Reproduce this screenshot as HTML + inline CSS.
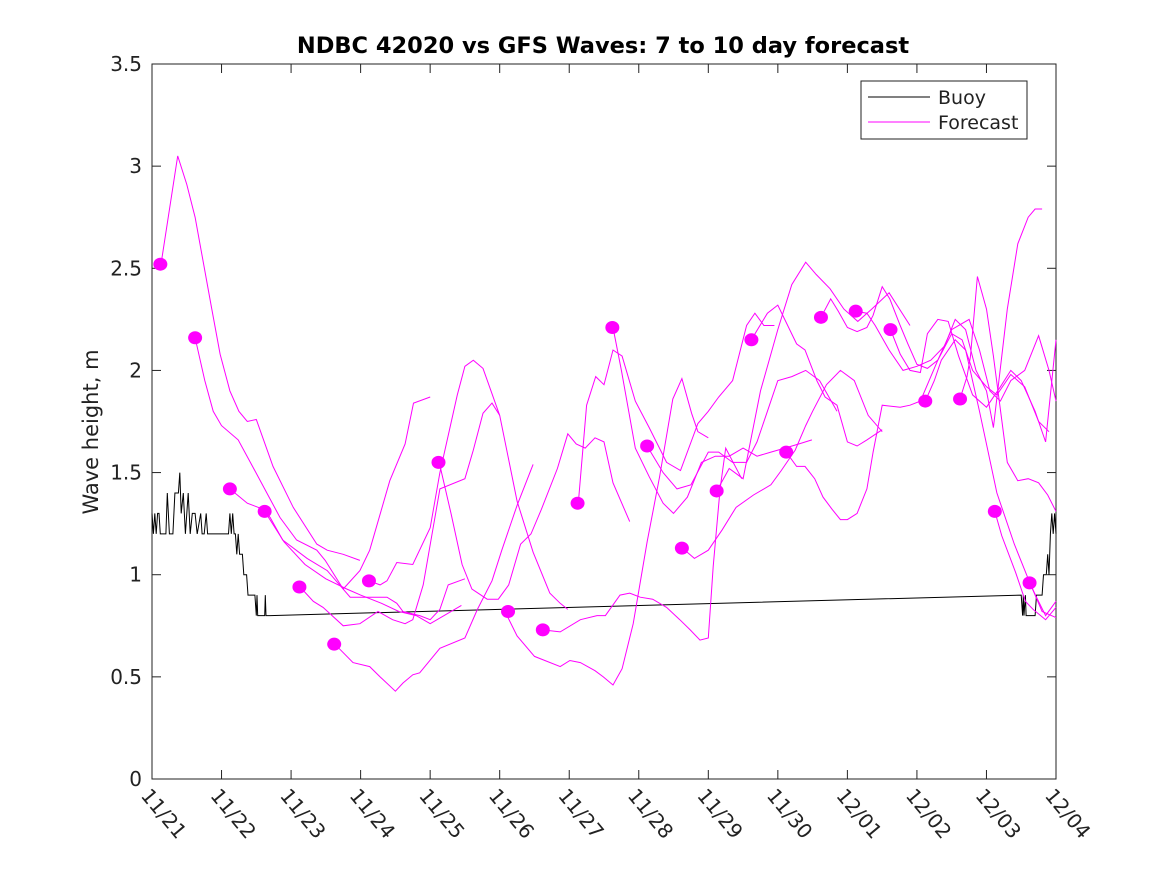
<!DOCTYPE html>
<html><head><meta charset="utf-8"><style>
html,body{margin:0;padding:0;background:#fff;}
svg{display:block;font-family:"DejaVu Sans","Liberation Sans",sans-serif;}
</style></head><body>
<svg id="chart" width="1167" height="875" viewBox="0 0 1167 875" xmlns="http://www.w3.org/2000/svg">
<rect width="1167" height="875" fill="#fff"/>
<text x="603" y="53" text-anchor="middle" font-size="22.5" font-weight="bold" fill="#000">NDBC 42020 vs GFS Waves: 7 to 10 day forecast</text>
<text transform="translate(98,432) rotate(-90)" text-anchor="middle" font-size="21" fill="#222">Wave height, m</text>
<g id="plot"></g>
<g>
<rect x="861" y="81" width="166" height="58" fill="#fff" stroke="#222" stroke-width="1"/>
<line x1="868" y1="97" x2="930" y2="97" stroke="#000" stroke-width="1"/>
<text x="938" y="104" font-size="19" fill="#222">Buoy</text>
<line x1="868" y1="122" x2="930" y2="122" stroke="#f0f" stroke-width="1"/>
<text x="938" y="129" font-size="19" fill="#222">Forecast</text>
</g>
</svg>
<script>
const xLabels = ["11/21","11/22","11/23","11/24","11/25","11/26","11/27","11/28","11/29","11/30","12/01","12/02","12/03","12/04"];
const yTicks = [0,0.5,1,1.5,2,2.5,3,3.5];
const yTickLabels = ["0","0.5","1","1.5","2","2.5","3","3.5"];
const buoyDays = [0,0.02,0.04,0.06,0.08,0.1,0.12,0.2,0.22,0.25,0.3,0.33,0.38,0.4,0.42,0.45,0.48,0.52,0.55,0.58,0.62,0.65,0.7,0.72,0.75,0.78,0.8,1.1,1.12,1.14,1.16,1.18,1.2,1.22,1.24,1.26,1.3,1.32,1.36,1.38,1.48,1.5,1.51,1.52,1.62,1.63,1.64,1.7,12.5,12.52,12.53,12.54,12.56,12.57,12.7,12.72,12.8,12.82,12.86,12.88,12.9,12.92,12.94,12.96,12.98,13];
const buoyVals = [1.3,1.2,1.3,1.2,1.3,1.3,1.2,1.2,1.4,1.2,1.2,1.4,1.4,1.5,1.3,1.4,1.2,1.4,1.2,1.3,1.3,1.2,1.3,1.2,1.2,1.3,1.2,1.2,1.3,1.2,1.3,1.2,1.2,1.1,1.2,1.1,1.1,1.0,1.0,0.9,0.9,0.8,0.9,0.8,0.8,0.9,0.8,0.8,0.9,0.8,0.9,0.8,0.9,0.8,0.8,0.9,0.9,1.0,1.0,1.1,1.0,1.2,1.3,1.2,1.3,1.2];
const dotDays = [0.12,0.62,1.12,1.62,2.12,2.62,3.12,4.12,5.12,5.62,6.12,6.62,7.12,7.62,8.12,8.62,9.12,9.62,10.12,10.62,11.12,11.62,12.12,12.62];
const dotVals = [2.52,2.16,1.42,1.31,0.94,0.66,0.97,1.55,0.82,0.73,1.35,2.21,1.63,1.13,1.41,2.15,1.60,2.26,2.29,2.20,1.85,1.86,1.31,0.96];
const fcDays = [
[0.13,0.37,0.5,0.62,0.86,0.98,1.12,1.25,1.37,1.5,1.74,2.03,2.37,2.52,2.75,2.99],
[0.62,0.76,0.88,1.0,1.24,1.51,1.84,2.08,2.37,2.49,2.75,2.99,3.13,3.42,3.64,3.76,4.0],
[1.12,1.37,1.6,1.7,1.88,2.23,2.52,2.85,3.38,3.52,3.61,3.85,4.0,4.14,4.26,4.5],
[1.62,1.9,2.2,2.5,2.8,3.0,3.3,3.55,3.8,4.0,4.2,4.45],
[2.13,2.32,2.46,2.75,2.99,3.25,3.46,3.64,3.75,3.9,4.14,4.5,4.62,4.76,4.89,5.0],
[2.63,2.89,3.13,3.28,3.5,3.61,3.75,3.85,4.14,4.5,4.68,4.89,5.03,5.25,5.48],
[3.12,3.28,3.38,3.52,3.75,4.0,4.14,4.39,4.5,4.62,4.76,5.0,5.25,5.48,5.72,5.87,5.98],
[4.13,4.3,4.46,4.6,4.82,4.98,5.13,5.3,5.45,5.6,5.83,5.98,6.1,6.23,6.37,6.5,6.63,6.87],
[5.12,5.25,5.5,5.87,6.01,6.16,6.37,6.49,6.63,6.76,6.92,7.12,7.3,7.49,7.62,7.76,7.85,8.0],
[5.62,5.87,6.16,6.4,6.52,6.73,6.87,7.02,7.2,7.4,7.59,7.74,7.88,8.0,8.07,8.17,8.25,8.48],
[6.13,6.25,6.38,6.5,6.63,6.76,6.95,7.15,7.4,7.6,7.85,8.0,8.15,8.35,8.55,8.67,8.8,8.95],
[6.63,6.75,6.95,7.15,7.35,7.5,7.7,7.9,8.1,8.3,8.5,8.7,8.9,9.1,9.3,9.49],
[7.12,7.35,7.55,7.75,8.0,8.15,8.35,8.55,8.7,8.85,9.0,9.2,9.4,9.6,9.85],
[7.63,7.8,8.0,8.2,8.4,8.65,8.9,9.05,9.25,9.4,9.5,9.7,9.9,10.1,10.3,10.5],
[8.12,8.3,8.5,8.75,9.0,9.2,9.4,9.55,9.75,9.95,10.15,10.35,10.6,10.9],
[8.62,8.85,9.0,9.27,9.39,9.56,9.68,9.85,10.0,10.14,10.28,10.5],
[9.12,9.27,9.39,9.53,9.65,9.78,9.9,10.0,10.14,10.28,10.37,10.5,10.76,10.9,11.05,11.3,11.5,11.75,11.9,12.05,12.2,12.35,12.55,12.75,12.9,13.0],
[9.62,9.76,9.87,10.0,10.14,10.28,10.37,10.5,10.61,10.76,10.87,11.0,11.15,11.3,11.5,11.65,11.8,12.0,12.15,12.35,12.55,12.75,12.9],
[10.12,10.28,10.4,10.6,10.8,11.0,11.2,11.4,11.55,11.7,11.85,12.0,12.1,12.3,12.45,12.6,12.7,12.8],
[10.62,10.76,10.9,11.05,11.15,11.3,11.45,11.6,11.8,12.0,12.2,12.35,12.5,12.7,12.85,13.0],
[11.12,11.25,11.35,11.55,11.7,11.9,12.15,12.4,12.6,12.8,13.0],
[11.62,11.72,11.77,11.87,12.0,12.1,12.3,12.45,12.6,12.75,12.88,13.0],
[12.12,12.22,12.42,12.56,12.67,12.85,13.0],
[12.62,12.72,12.85,13.0]
];
const fcVals = [
[2.52,3.05,2.91,2.75,2.30,2.08,1.90,1.80,1.75,1.76,1.53,1.33,1.15,1.12,1.10,1.07],
[2.16,1.95,1.80,1.73,1.66,1.49,1.28,1.17,1.12,1.07,0.93,1.02,1.12,1.46,1.64,1.84,1.87],
[1.42,1.35,1.32,1.28,1.17,1.08,1.02,0.89,0.89,0.86,0.82,0.80,0.78,0.83,0.95,0.98],
[1.31,1.16,1.05,0.98,0.93,0.90,0.86,0.82,0.80,0.76,0.80,0.85],
[0.94,0.87,0.84,0.75,0.76,0.82,0.78,0.76,0.78,0.95,1.42,1.47,1.61,1.79,1.84,1.78],
[0.66,0.57,0.55,0.50,0.43,0.47,0.51,0.52,0.64,0.69,0.83,0.97,1.12,1.34,1.54],
[0.97,0.95,0.97,1.06,1.05,1.23,1.50,1.88,2.02,2.05,2.01,1.78,1.36,1.11,0.91,0.86,0.83],
[1.55,1.30,1.05,0.93,0.88,0.88,0.95,1.15,1.20,1.32,1.52,1.69,1.64,1.62,1.67,1.65,1.45,1.26],
[0.79,0.70,0.60,0.55,0.58,0.57,0.53,0.50,0.46,0.54,0.76,1.16,1.48,1.86,1.96,1.79,1.70,1.67],
[0.73,0.72,0.78,0.80,0.80,0.90,0.91,0.89,0.88,0.84,0.78,0.73,0.68,0.69,1.04,1.42,1.62,1.47],
[1.35,1.83,1.97,1.93,2.10,2.07,1.85,1.72,1.55,1.51,1.74,1.80,1.87,1.95,2.22,2.28,2.22,2.22],
[2.21,2.00,1.62,1.48,1.35,1.30,1.38,1.55,1.58,1.58,1.62,1.58,1.60,1.62,1.64,1.66],
[1.63,1.50,1.42,1.44,1.60,1.60,1.55,1.55,1.65,1.80,1.95,1.97,2.00,1.95,1.80],
[1.13,1.08,1.12,1.22,1.33,1.39,1.44,1.51,1.61,1.73,1.80,1.93,2.00,1.95,1.78,1.70],
[1.41,1.52,1.47,1.90,2.20,2.42,2.53,2.47,2.40,2.30,2.24,2.30,2.38,2.22],
[2.15,2.28,2.32,2.13,2.10,1.95,1.87,1.83,1.65,1.63,1.66,1.71],
[1.60,1.53,1.53,1.47,1.38,1.32,1.27,1.27,1.30,1.42,1.60,1.83,1.82,1.83,1.85,2.05,2.20,2.25,2.10,1.90,1.85,1.95,2.00,2.17,2.00,1.85],
[2.26,2.35,2.29,2.21,2.19,2.21,2.27,2.41,2.35,2.22,2.13,2.03,2.01,2.05,2.18,2.15,2.00,1.92,1.88,1.98,1.92,1.75,1.70],
[2.29,2.28,2.22,2.10,2.00,2.02,2.05,2.12,2.25,2.20,2.00,1.90,1.72,2.30,2.62,2.75,2.79,2.79],
[2.20,2.08,2.00,1.99,2.18,2.25,2.24,2.07,1.88,1.82,1.92,2.00,1.95,1.80,1.65,2.15],
[1.85,1.95,2.05,2.15,2.10,1.80,1.40,1.15,0.98,0.82,0.79],
[1.86,1.97,2.07,2.46,2.30,2.07,1.55,1.46,1.47,1.45,1.39,1.31],
[1.31,1.19,1.01,0.87,0.83,0.78,0.84],
[0.96,0.89,0.80,0.87]
];

const NS = "http://www.w3.org/2000/svg";
const X0 = 152, X1 = 1056, Y0 = 779, Y1 = 64;
const xMax = 13, yMax = 3.5;
function xs(d){ return X0 + d / xMax * (X1 - X0); }
function ys(v){ return Y0 - v / yMax * (Y0 - Y1); }
const plot = document.getElementById('plot');
function mk(tag, attrs, parent){
  const e = document.createElementNS(NS, tag);
  for (const k in attrs) e.setAttribute(k, attrs[k]);
  (parent || plot).appendChild(e);
  return e;
}

const box = mk('rect', {x:X0, y:Y1, width:X1-X0, height:Y0-Y1, fill:'none', stroke:'#222', 'stroke-width':1});



yTicks.forEach((v, i) => {
  const y = ys(v);
  const t1 = mk('line', {x1:X0, y1:y, x2:X0+9, y2:y, stroke:'#222'});
  
  
  const t2 = mk('line', {x1:X1-9, y1:y, x2:X1, y2:y, stroke:'#222'});
  
  
  const lb = mk('text', {x:X0-10, y:y+7, 'text-anchor':'end', 'font-size':20, fill:'#222'});
  lb.textContent = yTickLabels[i];
  
  
});

xLabels.forEach((s, i) => {
  const x = xs(i);
  const t1 = mk('line', {x1:x, y1:Y0, x2:x, y2:Y0-9, stroke:'#222'});
  
  
  const t2 = mk('line', {x1:x, y1:Y1, x2:x, y2:Y1+9, stroke:'#222'});
  
  
  const lb = mk('text', {transform:`translate(${x-12},${Y0+17}) rotate(50)`, 'font-size':20, fill:'#222'});
  lb.textContent = s;
  
  
});

let bp = buoyDays.map((d, i) => `${xs(d).toFixed(1)},${ys(buoyVals[i]).toFixed(1)}`).join(' ');
const buoy = mk('polyline', {points:bp, fill:'none', stroke:'#000', 'stroke-width':1});



fcDays.forEach((ds, k) => {
  const pts = ds.map((d, i) => `${xs(d).toFixed(1)},${ys(fcVals[k][i]).toFixed(1)}`).join(' ');
  const pl = mk('polyline', {points:pts, fill:'none', stroke:'#f0f', 'stroke-width':1});
  
  
});

dotDays.forEach((d, i) => {
  const c = mk('ellipse', {cx:xs(d), cy:ys(dotVals[i]), rx:7, ry:6.5, fill:'#f0f'});
  
  
});
</script>
</body></html>
